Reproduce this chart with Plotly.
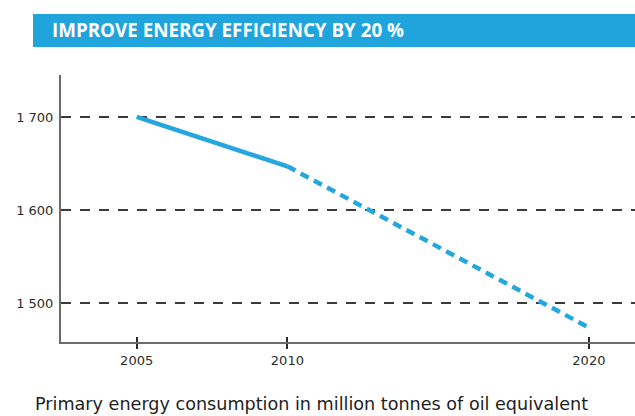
import plotly.graph_objects as go

# Primary energy consumption (Mtoe): recorded trend and projected path to the 2020 target
years_actual = [2005, 2010]
mtoe_actual = [1700, 1647]
years_target = [2010, 2020]
mtoe_target = [1647, 1474]

y_tickvals = [1500, 1600, 1700]
y_ticktext = ["1 500", "1 600", "1 700"]
x_tickvals = [2005, 2010, 2020]
x_ticktext = ["2005", "2010", "2020"]

title_text = "IMPROVE ENERGY EFFICIENCY BY 20 %"
caption_text = "Primary energy consumption in million tonnes of oil equivalent"

BLUE = "#25a7de"
BAR_BLUE = "#1fa4dc"
AXIS_GREY = "#6a6a6a"
GRID_DARK = "#3a3a3a"
TEXT_DARK = "#2b2b2b"
TITLE_FONT = "Open Sans"
BODY_FONT = "DejaVu Sans"

fig = go.Figure()

fig.add_trace(go.Scatter(
    x=years_actual, y=mtoe_actual, mode="lines",
    line=dict(color=BLUE, width=4.5),
    hoverinfo="skip", showlegend=False,
))
fig.add_trace(go.Scatter(
    x=years_target, y=mtoe_target, mode="lines",
    line=dict(color=BLUE, width=4.5, dash="9px,6px"),
    hoverinfo="skip", showlegend=False,
))
# invisible trace on the overlay axis that carries the crossing tick marks
fig.add_trace(go.Scatter(
    x=x_tickvals, y=[None] * len(x_tickvals), xaxis="x2", mode="lines",
    hoverinfo="skip", showlegend=False,
))

x_range = [2002.49, 2021.53]

fig.update_layout(
    width=635, height=416,
    margin=dict(l=61, r=0, t=75, b=74),
    paper_bgcolor="white", plot_bgcolor="white",
    font=dict(family=BODY_FONT, color=TEXT_DARK),
    xaxis=dict(
        range=x_range, tickvals=x_tickvals, ticktext=x_ticktext,
        showgrid=False, zeroline=False,
        showline=True, linecolor=AXIS_GREY, linewidth=2,
        ticks="outside", ticklen=5, tickwidth=1.5, tickcolor=TEXT_DARK,
        tickfont=dict(size=13, color=TEXT_DARK, family=BODY_FONT),
    ),
    xaxis2=dict(
        range=x_range, overlaying="x", tickvals=x_tickvals,
        showticklabels=False, showgrid=False, zeroline=False, showline=False,
        ticks="inside", ticklen=5, tickwidth=1.5, tickcolor=TEXT_DARK,
        anchor="y", side="bottom",
    ),
    yaxis=dict(
        range=[1458.5, 1745], tickvals=y_tickvals, ticktext=y_ticktext,
        showgrid=True, gridcolor=GRID_DARK, gridwidth=2, griddash="10px,9px",
        zeroline=False,
        showline=True, linecolor=AXIS_GREY, linewidth=2,
        ticks="", ticklabelstandoff=3,
        tickfont=dict(size=13, color=TEXT_DARK, family=BODY_FONT),
    ),
    shapes=[dict(
        type="rect", xref="paper", yref="paper",
        x0=-0.0488, x1=1.0, y0=1.1049, y1=1.2285,
        fillcolor=BAR_BLUE, line=dict(width=0), layer="above",
    )],
    annotations=[
        dict(
            text=title_text, xref="paper", yref="paper",
            x=-0.0195, y=1.1667, xanchor="left", yanchor="middle",
            showarrow=False,
            font=dict(family=TITLE_FONT, size=18.8, color="white", weight="bold"),
        ),
        dict(
            text=caption_text, xref="paper", yref="paper",
            x=-0.0488, y=-0.232, xanchor="left", yanchor="middle",
            showarrow=False,
            font=dict(family=BODY_FONT, size=17.6, color="#1e1e1e"),
        ),
    ],
)

fig.write_html("out.html")
